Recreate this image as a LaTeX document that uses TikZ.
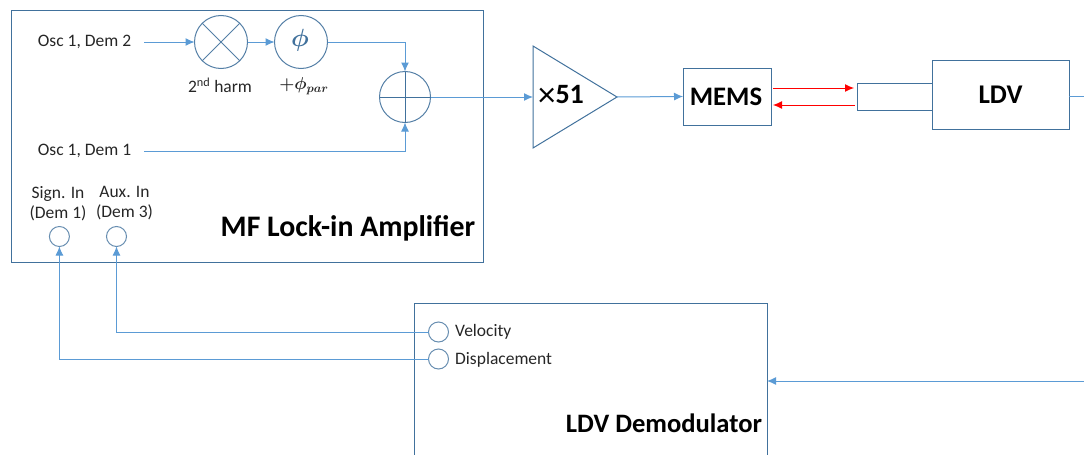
\documentclass[tikz,border=0pt]{standalone}
\usepackage{amsmath, amssymb}
\usepackage{fontspec}
\setmainfont{Carlito}
\usetikzlibrary{arrows.meta}

\definecolor{boxline}{HTML}{41719C}
\definecolor{wireblue}{HTML}{5B9BD5}
\definecolor{textgray}{HTML}{262626}

\tikzset{
  block/.style={draw=boxline,line width=0.95pt,inner sep=0pt,outer sep=0pt},
  port/.style={draw=boxline!80!white,line width=1pt,circle,inner sep=0pt,outer sep=0pt,minimum size=20pt},
  opcircle/.style={draw=boxline!90!white,line width=1pt,circle,inner sep=0pt,outer sep=0pt},
  wire/.style={draw=wireblue,line width=1pt,-{Latex[length=9pt,width=8pt]}},
  plainwire/.style={draw=wireblue,line width=1pt},
  redwire/.style={draw=red,line width=1pt,-{Latex[length=9pt,width=8pt]}},
  lbl/.style={text=textgray,font=\fontsize{17.5}{20}\selectfont,inner sep=0pt,align=center},
  title/.style={text=black,font=\fontsize{29.8}{32}\selectfont\bfseries,inner sep=0pt},
}

\begin{document}
\begin{tikzpicture}[x=1pt,y=-1pt]
  \useasboundingbox (0,0) rectangle (1084,455);

  % lock-in amplifier
  \node[block,minimum width=472pt,minimum height=252pt] (lockin) at (247,136) {};
  \node[title] (lockintitle) at (348,228.5) {MF Lock-in Amplifier};

  \node[lbl] (dem2) at (84.5,42) {Osc 1, Dem 2};
  \node[lbl] (dem1) at (84.5,150.5) {Osc 1, Dem 1};
  \coordinate (dem2out) at (144,42);
  \coordinate (dem1out) at (144,151);

  \node[opcircle,minimum size=53pt] (mult) at (221,42) {};
  \draw[boxline!90!white,line width=1pt] (mult.45)--(mult.225);
  \draw[boxline!90!white,line width=1pt] (mult.135)--(mult.315);
  \node[opcircle,minimum size=53pt] (phase) at (301,42) {};
  \node[text=boxline,font=\fontsize{30}{32}\selectfont,inner sep=0pt] (phasesym) at (300,40) {$\boldsymbol{\phi}$};
  \node[opcircle,minimum size=51pt] (adder) at (405,97) {};
  \draw[boxline,line width=1pt] (adder.north)--(adder.south);
  \draw[boxline,line width=1pt] (adder.west)--(adder.east);

  \node[lbl] (harm) at (220,85) {2\textsuperscript{nd} harm};
  \node[lbl,font=\fontsize{18}{20}\selectfont\boldmath] (phipar) at (304,86) {$+\phi_{par}$};

  \node[lbl] (signin) at (58,204) {Sign. In\\(Dem 1)};
  \node[lbl] (auxin) at (124.5,203) {Aux. In\\(Dem 3)};
  \node[port] (signport) at (59.4,236.5) {};
  \node[port] (auxport) at (116.5,236.5) {};

  % signal chain
  \coordinate (ampin) at (533,97);
  \coordinate (amptop) at (533,46);
  \coordinate (ampbot) at (533,148);
  \coordinate (ampout) at (617,97);
  \draw[boxline,line width=1pt,line join=miter] (amptop)--(ampout)--(ampbot)--cycle;
  \node[title,font=\fontsize{28}{30}\selectfont\bfseries] (gain) at (561,96) {\raisebox{-2.5pt}{\normalfont\fontsize{35}{35}\selectfont ×}51};

  \node[block,minimum width=88pt,minimum height=57pt,font=\fontsize{26.7}{29}\selectfont\bfseries] (mems) at (727,96.5) {\hspace{-2pt}MEMS};
  \node[block,minimum width=75pt,minimum height=27pt] (head) at (894.5,96.5) {};
  \node[block,minimum width=137pt,minimum height=69pt,font=\fontsize{27}{29}\selectfont\bfseries] (ldv) at (1000.5,94.5) {LDV};
  \coordinate (ldvout) at (1084,96);

  \coordinate (memstx) at (773,88);
  \coordinate (headrx) at (854,88);
  \coordinate (headtx) at (855,105);
  \coordinate (memsrx) at (773,105);

  % demodulator, runs off the bottom edge
  \coordinate (demodbl) at (414,455);
  \coordinate (demodtl) at (414,303);
  \coordinate (demodtr) at (767,303);
  \coordinate (demodbr) at (767,455);
  \draw[boxline,line width=0.95pt] (demodbl)--(demodtl)--(demodtr)--(demodbr);
  \node[title,font=\fontsize{26.6}{29}\selectfont\bfseries] (demodtitle) at (664,423.5) {LDV Demodulator};
  \node[port] (velport) at (438.5,332) {};
  \node[port] (dispport) at (438.5,359) {};
  \node[lbl,anchor=west] (vel) at (455,331.5) {Velocity};
  \node[lbl,anchor=west] (disp) at (455,359.5) {Displacement};
  \coordinate (demodin) at (767,381);
  \coordinate (feedin) at (1084,381);

  % connectors
  \draw[wire] (dem2out)--(mult.west);
  \draw[wire] (mult.east)--(phase.west);
  \draw[wire] (phase.east)-|(adder.north);
  \draw[wire] (dem1out)-|(adder.south);
  \draw[wire] (adder.east)--(ampin);
  \draw[wire] (ampout)--(mems.west);
  \draw[redwire] (memstx)--(headrx);
  \draw[redwire] (headtx)--(memsrx);
  \draw[plainwire] (ldv.east |- ldvout)--(ldvout);
  \draw[wire] (feedin)--(demodin);
  \draw[wire] (velport.west)-|(auxport.south);
  \draw[wire] (dispport.west)-|(signport.south);
\end{tikzpicture}
\end{document}
